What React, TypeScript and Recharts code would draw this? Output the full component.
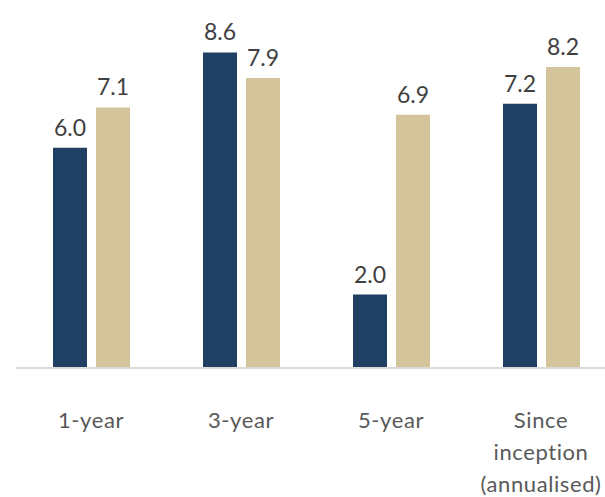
import { BarChart, Bar, XAxis, YAxis, LabelList } from "recharts"

const periods = ["1-year", "3-year", "5-year", "Since inception (annualised)"]
const fundReturns = [6.0, 8.6, 2.0, 7.2]
const benchmarkReturns = [7.1, 7.9, 6.9, 8.2]

const tickLines: Record<string, string[]> = {
  "Since inception (annualised)": ["Since", "inception", "(annualised)"],
}

const data = periods.map((period, i) => ({
  period,
  fund: fundReturns[i],
  benchmark: benchmarkReturns[i],
}))

const FONT = "Lato, 'Open Sans', sans-serif"

function PeriodTick(props: any) {
  const { x, y, payload } = props
  const lines = tickLines[payload.value] || [payload.value]
  return (
    <text x={x} y={y} textAnchor="middle" fill="#595959" fontSize={22} fontFamily={FONT} letterSpacing={0.6}>
      {lines.map((line, i) => (
        <tspan key={line} x={x} dy={i === 0 ? 60 : 32}>
          {line}
        </tspan>
      ))}
    </text>
  )
}

export default function App() {
  return (
    <div style={{ position: "absolute", left: 0, top: 0, width: 605, height: 497, overflow: "hidden" }}>
      <BarChart
        width={620}
        height={497}
        data={data}
        margin={{ top: 1, right: 4, left: 16, bottom: 0 }}
        barSize={34}
        barGap={9}
        style={{ overflow: "visible" }}
      >
        <XAxis
          dataKey="period"
          height={129}
          axisLine={{ stroke: "#D9D9D9", strokeWidth: 2 }}
          tickLine={false}
          tickSize={0}
          tickMargin={0}
          interval={0}
          tick={<PeriodTick />}
        />
        <YAxis hide domain={[0, 10]} />
        <Bar dataKey="fund" fill="#1F3F63" isAnimationActive={false}>
          <LabelList
            dataKey="fund"
            position="top"
            offset={12}
            formatter={(v: any) => Number(v).toFixed(1)}
            style={{ fill: "#404040", fontSize: 23, fontFamily: FONT }}
          />
        </Bar>
        <Bar dataKey="benchmark" fill="#D3C49B" isAnimationActive={false}>
          <LabelList
            dataKey="benchmark"
            position="top"
            offset={12}
            formatter={(v: any) => Number(v).toFixed(1)}
            style={{ fill: "#404040", fontSize: 23, fontFamily: FONT }}
          />
        </Bar>
      </BarChart>
    </div>
  )
}
